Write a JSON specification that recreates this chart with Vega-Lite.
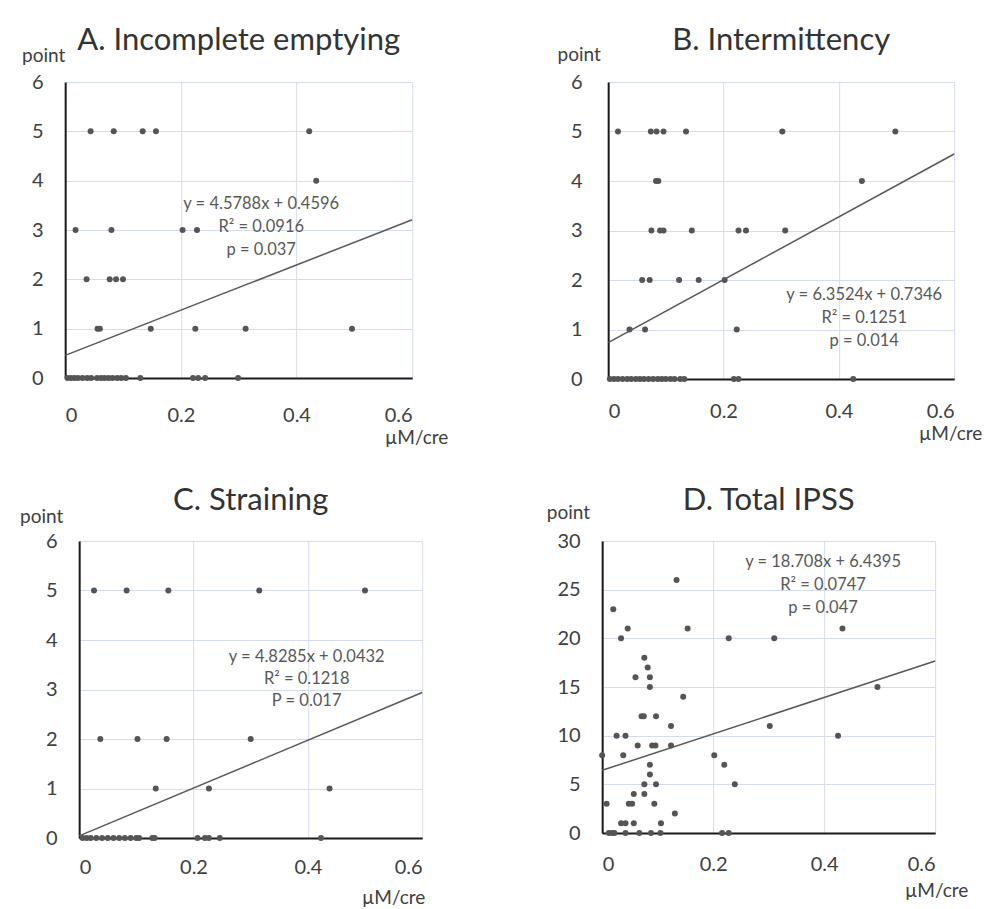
{
  "$schema": "https://vega.github.io/schema/vega-lite/v6.json",
  "background": "white",
  "padding": {"left": 19, "top": 24, "right": 0, "bottom": 0},
  "center": true,
  "spacing": 38,
  "datasets": {
    "pts": [
      {"panel": "A", "x": 0.044, "y": 5}, {"panel": "A", "x": 0.084, "y": 5}, {"panel": "A", "x": 0.134, "y": 5}, {"panel": "A", "x": 0.157, "y": 5}, {"panel": "A", "x": 0.422, "y": 5},
      {"panel": "A", "x": 0.434, "y": 4},
      {"panel": "A", "x": 0.018, "y": 3}, {"panel": "A", "x": 0.080, "y": 3}, {"panel": "A", "x": 0.203, "y": 3}, {"panel": "A", "x": 0.228, "y": 3},
      {"panel": "A", "x": 0.037, "y": 2}, {"panel": "A", "x": 0.077, "y": 2}, {"panel": "A", "x": 0.088, "y": 2}, {"panel": "A", "x": 0.100, "y": 2},
      {"panel": "A", "x": 0.056, "y": 1}, {"panel": "A", "x": 0.060, "y": 1}, {"panel": "A", "x": 0.148, "y": 1}, {"panel": "A", "x": 0.225, "y": 1}, {"panel": "A", "x": 0.312, "y": 1}, {"panel": "A", "x": 0.496, "y": 1},
      {"panel": "A", "x": 0.004, "y": 0}, {"panel": "A", "x": 0.010, "y": 0}, {"panel": "A", "x": 0.016, "y": 0}, {"panel": "A", "x": 0.022, "y": 0}, {"panel": "A", "x": 0.030, "y": 0}, {"panel": "A", "x": 0.038, "y": 0}, {"panel": "A", "x": 0.045, "y": 0}, {"panel": "A", "x": 0.055, "y": 0}, {"panel": "A", "x": 0.062, "y": 0}, {"panel": "A", "x": 0.068, "y": 0}, {"panel": "A", "x": 0.075, "y": 0}, {"panel": "A", "x": 0.082, "y": 0}, {"panel": "A", "x": 0.090, "y": 0}, {"panel": "A", "x": 0.097, "y": 0}, {"panel": "A", "x": 0.105, "y": 0}, {"panel": "A", "x": 0.130, "y": 0}, {"panel": "A", "x": 0.221, "y": 0}, {"panel": "A", "x": 0.230, "y": 0}, {"panel": "A", "x": 0.242, "y": 0}, {"panel": "A", "x": 0.299, "y": 0},

      {"panel": "B", "x": 0.017, "y": 5}, {"panel": "B", "x": 0.074, "y": 5}, {"panel": "B", "x": 0.084, "y": 5}, {"panel": "B", "x": 0.096, "y": 5}, {"panel": "B", "x": 0.135, "y": 5}, {"panel": "B", "x": 0.302, "y": 5}, {"panel": "B", "x": 0.498, "y": 5},
      {"panel": "B", "x": 0.083, "y": 4}, {"panel": "B", "x": 0.087, "y": 4}, {"panel": "B", "x": 0.440, "y": 4},
      {"panel": "B", "x": 0.075, "y": 3}, {"panel": "B", "x": 0.090, "y": 3}, {"panel": "B", "x": 0.096, "y": 3}, {"panel": "B", "x": 0.145, "y": 3}, {"panel": "B", "x": 0.226, "y": 3}, {"panel": "B", "x": 0.239, "y": 3}, {"panel": "B", "x": 0.307, "y": 3},
      {"panel": "B", "x": 0.059, "y": 2}, {"panel": "B", "x": 0.072, "y": 2}, {"panel": "B", "x": 0.123, "y": 2}, {"panel": "B", "x": 0.157, "y": 2}, {"panel": "B", "x": 0.202, "y": 2},
      {"panel": "B", "x": 0.037, "y": 1}, {"panel": "B", "x": 0.064, "y": 1}, {"panel": "B", "x": 0.223, "y": 1},
      {"panel": "B", "x": 0.003, "y": 0}, {"panel": "B", "x": 0.010, "y": 0}, {"panel": "B", "x": 0.017, "y": 0}, {"panel": "B", "x": 0.025, "y": 0}, {"panel": "B", "x": 0.033, "y": 0}, {"panel": "B", "x": 0.040, "y": 0}, {"panel": "B", "x": 0.048, "y": 0}, {"panel": "B", "x": 0.055, "y": 0}, {"panel": "B", "x": 0.062, "y": 0}, {"panel": "B", "x": 0.070, "y": 0}, {"panel": "B", "x": 0.078, "y": 0}, {"panel": "B", "x": 0.086, "y": 0}, {"panel": "B", "x": 0.093, "y": 0}, {"panel": "B", "x": 0.100, "y": 0}, {"panel": "B", "x": 0.108, "y": 0}, {"panel": "B", "x": 0.115, "y": 0}, {"panel": "B", "x": 0.125, "y": 0}, {"panel": "B", "x": 0.132, "y": 0}, {"panel": "B", "x": 0.218, "y": 0}, {"panel": "B", "x": 0.226, "y": 0}, {"panel": "B", "x": 0.425, "y": 0},

      {"panel": "C", "x": 0.026, "y": 5}, {"panel": "C", "x": 0.083, "y": 5}, {"panel": "C", "x": 0.156, "y": 5}, {"panel": "C", "x": 0.315, "y": 5}, {"panel": "C", "x": 0.500, "y": 5},
      {"panel": "C", "x": 0.037, "y": 2}, {"panel": "C", "x": 0.102, "y": 2}, {"panel": "C", "x": 0.153, "y": 2}, {"panel": "C", "x": 0.300, "y": 2},
      {"panel": "C", "x": 0.134, "y": 1}, {"panel": "C", "x": 0.227, "y": 1}, {"panel": "C", "x": 0.438, "y": 1},
      {"panel": "C", "x": 0.006, "y": 0}, {"panel": "C", "x": 0.013, "y": 0}, {"panel": "C", "x": 0.020, "y": 0}, {"panel": "C", "x": 0.030, "y": 0}, {"panel": "C", "x": 0.040, "y": 0}, {"panel": "C", "x": 0.050, "y": 0}, {"panel": "C", "x": 0.060, "y": 0}, {"panel": "C", "x": 0.070, "y": 0}, {"panel": "C", "x": 0.080, "y": 0}, {"panel": "C", "x": 0.090, "y": 0}, {"panel": "C", "x": 0.100, "y": 0}, {"panel": "C", "x": 0.105, "y": 0}, {"panel": "C", "x": 0.128, "y": 0}, {"panel": "C", "x": 0.132, "y": 0}, {"panel": "C", "x": 0.207, "y": 0}, {"panel": "C", "x": 0.220, "y": 0}, {"panel": "C", "x": 0.227, "y": 0}, {"panel": "C", "x": 0.246, "y": 0}, {"panel": "C", "x": 0.423, "y": 0},

      {"panel": "D", "x": 0.134, "y": 26}, {"panel": "D", "x": 0.020, "y": 23}, {"panel": "D", "x": 0.046, "y": 21}, {"panel": "D", "x": 0.034, "y": 20}, {"panel": "D", "x": 0.154, "y": 21}, {"panel": "D", "x": 0.228, "y": 20}, {"panel": "D", "x": 0.310, "y": 20}, {"panel": "D", "x": 0.433, "y": 21},
      {"panel": "D", "x": 0.076, "y": 18}, {"panel": "D", "x": 0.082, "y": 17}, {"panel": "D", "x": 0.060, "y": 16}, {"panel": "D", "x": 0.086, "y": 16}, {"panel": "D", "x": 0.086, "y": 15}, {"panel": "D", "x": 0.146, "y": 14}, {"panel": "D", "x": 0.496, "y": 15},
      {"panel": "D", "x": 0.071, "y": 12}, {"panel": "D", "x": 0.075, "y": 12}, {"panel": "D", "x": 0.097, "y": 12}, {"panel": "D", "x": 0.124, "y": 11}, {"panel": "D", "x": 0.302, "y": 11},
      {"panel": "D", "x": 0.026, "y": 10}, {"panel": "D", "x": 0.042, "y": 10}, {"panel": "D", "x": 0.425, "y": 10},
      {"panel": "D", "x": 0.064, "y": 9}, {"panel": "D", "x": 0.090, "y": 9}, {"panel": "D", "x": 0.096, "y": 9}, {"panel": "D", "x": 0.124, "y": 9},
      {"panel": "D", "x": 0.000, "y": 8}, {"panel": "D", "x": 0.038, "y": 8}, {"panel": "D", "x": 0.202, "y": 8},
      {"panel": "D", "x": 0.086, "y": 7}, {"panel": "D", "x": 0.220, "y": 7}, {"panel": "D", "x": 0.086, "y": 6},
      {"panel": "D", "x": 0.076, "y": 5}, {"panel": "D", "x": 0.097, "y": 5}, {"panel": "D", "x": 0.239, "y": 5},
      {"panel": "D", "x": 0.057, "y": 4}, {"panel": "D", "x": 0.076, "y": 4},
      {"panel": "D", "x": 0.008, "y": 3}, {"panel": "D", "x": 0.048, "y": 3}, {"panel": "D", "x": 0.054, "y": 3}, {"panel": "D", "x": 0.094, "y": 3},
      {"panel": "D", "x": 0.131, "y": 2},
      {"panel": "D", "x": 0.034, "y": 1}, {"panel": "D", "x": 0.042, "y": 1}, {"panel": "D", "x": 0.057, "y": 1}, {"panel": "D", "x": 0.106, "y": 1},
      {"panel": "D", "x": 0.012, "y": 0}, {"panel": "D", "x": 0.018, "y": 0}, {"panel": "D", "x": 0.022, "y": 0}, {"panel": "D", "x": 0.042, "y": 0}, {"panel": "D", "x": 0.067, "y": 0}, {"panel": "D", "x": 0.088, "y": 0}, {"panel": "D", "x": 0.105, "y": 0}, {"panel": "D", "x": 0.216, "y": 0}, {"panel": "D", "x": 0.228, "y": 0}
    ],
    "fit": [
      {"panel": "A", "x": 0, "y": 0.4596}, {"panel": "A", "x": 0.6, "y": 3.2069},
      {"panel": "B", "x": 0, "y": 0.7346}, {"panel": "B", "x": 0.6, "y": 4.546},
      {"panel": "C", "x": 0, "y": 0.0432}, {"panel": "C", "x": 0.6, "y": 2.9403},
      {"panel": "D", "x": 0, "y": 6.4395}, {"panel": "D", "x": 0.6, "y": 17.6643}
    ],
    "eq": [
      {"panel": "A", "label": "y = 4.5788x + 0.4596|R² = 0.0916|p = 0.037"},
      {"panel": "B", "label": "y = 6.3524x + 0.7346|R² = 0.1251|p = 0.014"},
      {"panel": "C", "label": "y = 4.8285x + 0.0432|R² = 0.1218|P = 0.017"},
      {"panel": "D", "label": "y = 18.708x + 6.4395|R² = 0.0747|p = 0.047"}
    ]
  },
  "config": {
    "font": "Lato",
    "view": {"stroke": null},
    "axis": {
      "grid": true, "gridColor": "#d5dcee", "gridWidth": 1,
      "ticks": false, "tickSize": 0,
      "domainColor": "#1a1a1a", "domainWidth": 2,
      "labelFont": "Lato", "labelFontSize": 20, "labelColor": "#404040",
      "titleFont": "Lato", "titleFontSize": 19, "titleFontWeight": "normal", "titleColor": "#404040",
      "titleAngle": 0, "titleAlign": "center", "titleBaseline": "middle",
      "zindex": 0
    },
    "title": {"font": "Lato", "fontSize": 31, "fontWeight": "normal", "color": "#333333", "frame": "group", "anchor": "middle"}
  },
  "vconcat": [
    {
      "spacing": 108,
      "hconcat": [
        {
          "title": {"text": "A. Incomplete emptying", "offset": -11},
          "width": 347, "height": 296,
          "layer": [
            {"data": {"name": "pts"}, "transform": [{"filter": "datum.panel === 'A'"}], "mark": {"type": "circle", "size": 36, "color": "#555555", "opacity": 1},
             "encoding": {
              "x": {"field": "x", "type": "quantitative", "scale": {"domain": [0, 0.6], "nice": false},
                    "axis": {"values": [0, 0.2, 0.4, 0.6], "format": "~g", "labelPadding": 27, "title": "µM/cre", "titleX": 351, "titleY": 59}},
              "y": {"field": "y", "type": "quantitative", "scale": {"domain": [0, 6], "nice": false},
                    "axis": {"values": [0, 1, 2, 3, 4, 5, 6], "format": "d", "labelPadding": 22, "title": "point", "titleX": -22, "titleY": -27}}
             }},
            {"data": {"name": "fit"}, "transform": [{"filter": "datum.panel === 'A'"}], "mark": {"type": "line", "color": "#595959", "strokeWidth": 1.5},
             "encoding": {"x": {"field": "x", "type": "quantitative"}, "y": {"field": "y", "type": "quantitative"}}},
            {"data": {"name": "eq"}, "transform": [{"filter": "datum.panel === 'A'"}],
             "mark": {"type": "text", "lineBreak": "|", "lineHeight": 23, "fontSize": 16.5, "color": "#595959", "align": "center", "baseline": "middle"},
             "encoding": {"x": {"datum": 0.339, "type": "quantitative"}, "y": {"datum": 3.53, "type": "quantitative"}, "text": {"field": "label", "type": "nominal"}}}
          ]
        },
        {
          "title": {"text": "B. Intermittency", "offset": -11},
          "width": 346, "height": 297,
          "layer": [
            {"data": {"name": "pts"}, "transform": [{"filter": "datum.panel === 'B'"}], "mark": {"type": "circle", "size": 36, "color": "#555555", "opacity": 1},
             "encoding": {
              "x": {"field": "x", "type": "quantitative", "scale": {"domain": [0, 0.6], "nice": false},
                    "axis": {"values": [0, 0.2, 0.4, 0.6], "format": "~g", "labelPadding": 22, "title": "µM/cre", "titleX": 342, "titleY": 54}},
              "y": {"field": "y", "type": "quantitative", "scale": {"domain": [0, 6], "nice": false},
                    "axis": {"values": [0, 1, 2, 3, 4, 5, 6], "format": "d", "labelPadding": 26, "title": "point", "titleX": -29.5, "titleY": -27.5}}
             }},
            {"data": {"name": "fit"}, "transform": [{"filter": "datum.panel === 'B'"}], "mark": {"type": "line", "color": "#595959", "strokeWidth": 1.5},
             "encoding": {"x": {"field": "x", "type": "quantitative"}, "y": {"field": "y", "type": "quantitative"}}},
            {"data": {"name": "eq"}, "transform": [{"filter": "datum.panel === 'B'"}],
             "mark": {"type": "text", "lineBreak": "|", "lineHeight": 23, "fontSize": 16.5, "color": "#595959", "align": "center", "baseline": "middle"},
             "encoding": {"x": {"datum": 0.444, "type": "quantitative"}, "y": {"datum": 1.70, "type": "quantitative"}, "text": {"field": "label", "type": "nominal"}}}
          ]
        }
      ]
    },
    {
      "spacing": 121,
      "hconcat": [
        {
          "title": {"text": "C. Straining", "offset": -10},
          "width": 343, "height": 297,
          "layer": [
            {"data": {"name": "pts"}, "transform": [{"filter": "datum.panel === 'C'"}], "mark": {"type": "circle", "size": 36, "color": "#555555", "opacity": 1},
             "encoding": {
              "x": {"field": "x", "type": "quantitative", "scale": {"domain": [0, 0.6], "nice": false},
                    "axis": {"values": [0, 0.2, 0.4, 0.6], "format": "~g", "labelPadding": 19, "title": "µM/cre", "titleX": 314, "titleY": 59}},
              "y": {"field": "y", "type": "quantitative", "scale": {"domain": [0, 6], "nice": false},
                    "axis": {"values": [0, 1, 2, 3, 4, 5, 6], "format": "d", "labelPadding": 22, "title": "point", "titleX": -38, "titleY": -25}}
             }},
            {"data": {"name": "fit"}, "transform": [{"filter": "datum.panel === 'C'"}], "mark": {"type": "line", "color": "#595959", "strokeWidth": 1.5},
             "encoding": {"x": {"field": "x", "type": "quantitative"}, "y": {"field": "y", "type": "quantitative"}}},
            {"data": {"name": "eq"}, "transform": [{"filter": "datum.panel === 'C'"}],
             "mark": {"type": "text", "lineBreak": "|", "lineHeight": 22, "fontSize": 16.5, "color": "#595959", "align": "center", "baseline": "middle"},
             "encoding": {"x": {"datum": 0.398, "type": "quantitative"}, "y": {"datum": 3.66, "type": "quantitative"}, "text": {"field": "label", "type": "nominal"}}}
          ]
        },
        {
          "title": {"text": "D. Total IPSS", "offset": -13.5},
          "width": 333, "height": 292,
          "layer": [
            {"data": {"name": "pts"}, "transform": [{"filter": "datum.panel === 'D'"}], "mark": {"type": "circle", "size": 36, "color": "#555555", "opacity": 1},
             "encoding": {
              "x": {"field": "x", "type": "quantitative", "scale": {"domain": [0, 0.6], "nice": false},
                    "axis": {"values": [0, 0.2, 0.4, 0.6], "format": "~g", "labelPadding": 21, "title": "µM/cre", "titleX": 334, "titleY": 57}},
              "y": {"field": "y", "type": "quantitative", "scale": {"domain": [0, 30], "nice": false},
                    "axis": {"values": [0, 5, 10, 15, 20, 25, 30], "format": "d", "labelPadding": 22, "title": "point", "titleX": -34.3, "titleY": -28.5}}
             }},
            {"data": {"name": "fit"}, "transform": [{"filter": "datum.panel === 'D'"}], "mark": {"type": "line", "color": "#595959", "strokeWidth": 1.5},
             "encoding": {"x": {"field": "x", "type": "quantitative"}, "y": {"field": "y", "type": "quantitative"}}},
            {"data": {"name": "eq"}, "transform": [{"filter": "datum.panel === 'D'"}],
             "mark": {"type": "text", "lineBreak": "|", "lineHeight": 23, "fontSize": 16.5, "color": "#595959", "align": "center", "baseline": "middle"},
             "encoding": {"x": {"datum": 0.398, "type": "quantitative"}, "y": {"datum": 27.84, "type": "quantitative"}, "text": {"field": "label", "type": "nominal"}}}
          ]
        }
      ]
    }
  ]
}
